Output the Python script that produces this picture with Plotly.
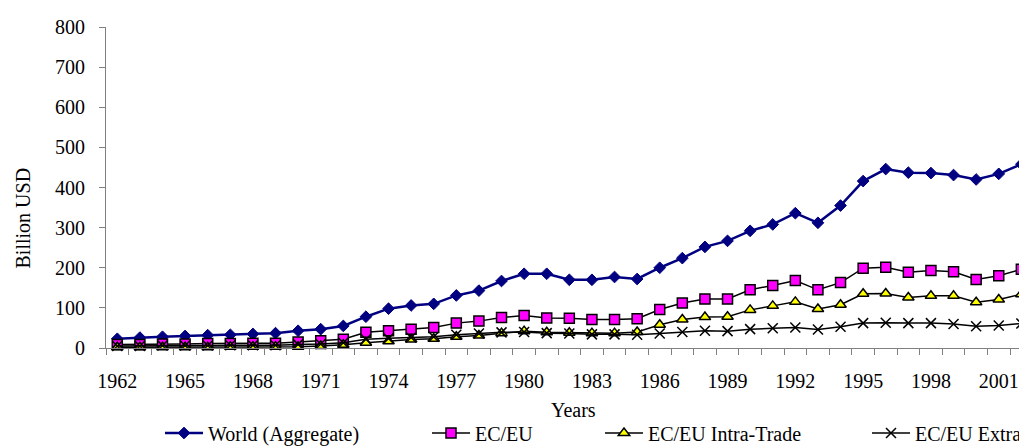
import plotly.graph_objects as go

years = list(range(1962, 2003))
world = [23, 26, 28, 30, 32, 33, 35, 37, 43, 47, 55, 78, 98, 106, 110, 131, 143, 167, 185, 185,
         170, 170, 177, 172, 200, 224, 252, 267, 292, 308, 336, 312, 355, 416, 446, 437, 436, 431,
         420, 434, 458]
ec_eu = [9, 9, 10, 10, 11, 11, 12, 12, 15, 18, 22, 39, 43, 47, 51, 62, 67, 76, 81, 75,
         74, 71, 71, 73, 96, 112, 122, 122, 145, 156, 168, 145, 163, 199, 201, 189, 193, 190,
         171, 180, 196]
intra = [2, 2, 2, 2, 2, 3, 3, 3, 3, 5, 8, 13, 17, 21, 23, 28, 31, 37, 42, 39,
         38, 37, 37, 40, 58, 71, 77, 78, 95, 105, 115, 97, 108, 135, 136, 126, 130, 130,
         114, 121, 134]
extra = [5, 5, 6, 6, 6, 7, 7, 7, 9, 10, 13, 22, 24, 26, 28, 33, 36, 39, 40, 37,
         36, 34, 34, 33, 36, 40, 43, 42, 47, 49, 51, 46, 53, 62, 63, 62, 62, 60,
         54, 56, 61]
series_names = ["World (Aggregate)", "EC/EU", "EC/EU Intra-Trade", "EC/EU Extra-Trade"]
tick_years = list(range(1962, 2003, 3))
y_ticks = list(range(0, 801, 100))

FONT = "Liberation Serif"
# the page body has an 8px margin, so the figure is drawn 8px in from the window corner
OFF = 8
W, H = 1027 - OFF, 446 - OFF

fig = go.Figure()
fig.add_trace(go.Scatter(
    x=years, y=world, name=series_names[0], mode="lines+markers", cliponaxis=False,
    line=dict(color="#000080", width=2.5),
    marker=dict(symbol="diamond", size=9, color="#000080", line=dict(color="#000080", width=1)),
    legend="legend"))
fig.add_trace(go.Scatter(
    x=years, y=ec_eu, name=series_names[1], mode="lines+markers", cliponaxis=False,
    line=dict(color="black", width=1.5),
    marker=dict(symbol="square", size=10, color="#FF00FF", line=dict(color="black", width=1.5)),
    legend="legend2"))
fig.add_trace(go.Scatter(
    x=years, y=intra, name=series_names[2], mode="lines+markers", cliponaxis=False,
    line=dict(color="black", width=1.5),
    marker=dict(symbol="triangle-up", size=10, color="#FFFF00", line=dict(color="black", width=1.5)),
    legend="legend3"))
fig.add_trace(go.Scatter(
    x=years, y=extra, name=series_names[3], mode="lines+markers", cliponaxis=False,
    line=dict(color="black", width=1.5),
    marker=dict(symbol="x-thin-open", size=10, color="black", line=dict(color="black", width=1.5)),
    legend="legend4"))

def leg(px):
    return dict(orientation="h", xref="container", yref="container",
                x=px / W, y=(H - (433 - OFF)) / H, xanchor="left", yanchor="middle",
                itemwidth=38,
                bgcolor="rgba(0,0,0,0)", font=dict(family=FONT, size=20, color="black"))

plot_l, plot_t, plot_b = 106 - OFF, 27 - OFF, 348 - OFF
plot_w, plot_h = W - plot_l, plot_b - plot_t

fig.update_layout(
    width=W, height=H,
    margin=dict(l=plot_l, r=0, t=plot_t, b=H - plot_b, autoexpand=False),
    paper_bgcolor="white", plot_bgcolor="white",
    font=dict(family=FONT, size=20, color="black"),
    showlegend=True,
    legend=leg(152), legend2=leg(419), legend3=leg(592), legend4=leg(859),
    xaxis=dict(range=[1961.5, 2002.25], tickmode="array", tickvals=tick_years,
               ticktext=[str(y) for y in tick_years], ticks="", showgrid=False, zeroline=False,
               showline=True, linecolor="#808080", linewidth=1, ticklabelstandoff=15,
               tickfont=dict(family=FONT, size=20, color="black"),
               minor=dict(tickmode="linear", tick0=1961.5, dtick=1, ticks="outside",
                          ticklen=6, tickwidth=1, tickcolor="#808080", showgrid=False)),
    yaxis=dict(range=[0, 800], tickmode="array", tickvals=y_ticks, ticks="outside", ticklen=6,
               tickwidth=1, tickcolor="#808080", showgrid=False, zeroline=False, showline=True,
               linecolor="#808080", linewidth=1, ticklabelstandoff=10,
               tickfont=dict(family=FONT, size=20, color="black")),
    annotations=[
        dict(text="Billion USD", textangle=-90, xref="paper", yref="paper",
             x=(22.5 - 106) / plot_w, y=(348 - 218) / plot_h, xanchor="center", yanchor="middle",
             showarrow=False, font=dict(family=FONT, size=20, color="black")),
        dict(text="Years", xref="paper", yref="paper",
             x=(573.5 - 106) / plot_w, y=(348 - 410) / plot_h, xanchor="center", yanchor="middle",
             showarrow=False, font=dict(family=FONT, size=20, color="black")),
    ],
)

fig.write_html("out.html")
